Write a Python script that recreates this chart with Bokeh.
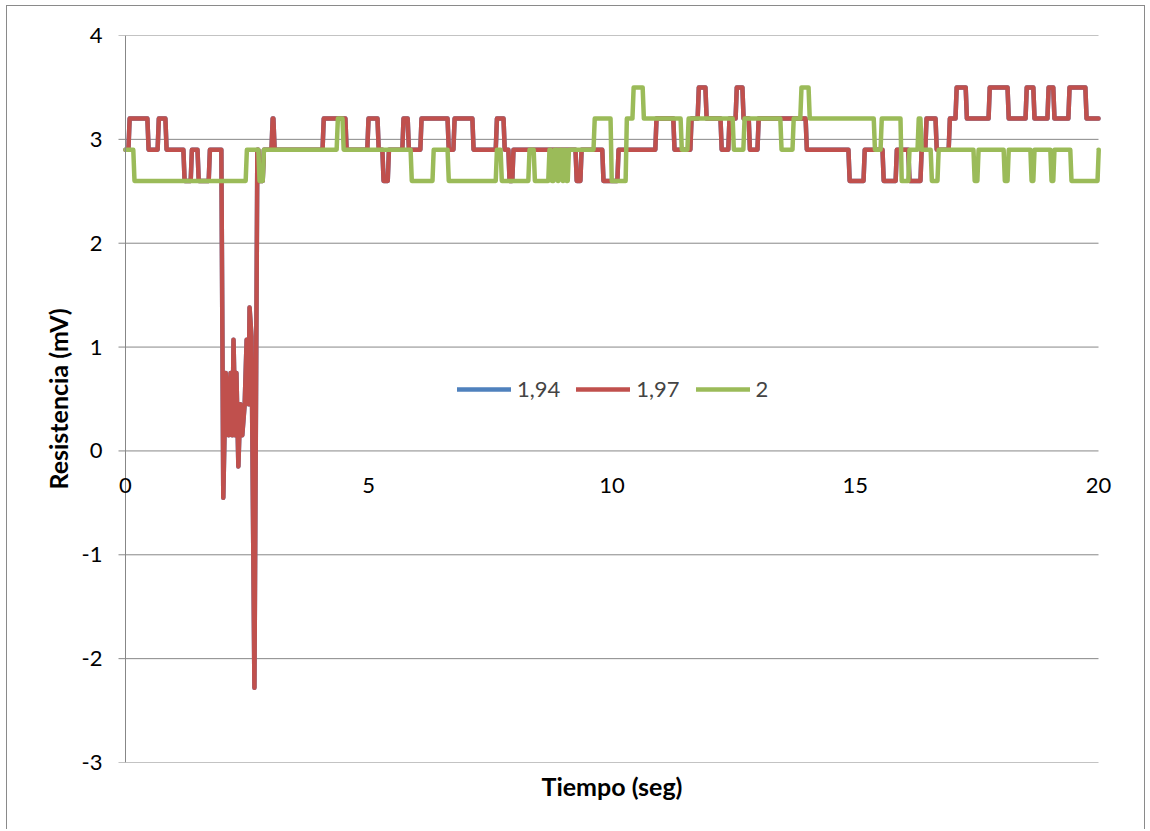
from bokeh.plotting import figure
from bokeh.models import Range1d, FixedTicker, Legend, LegendItem, Label, Span
from bokeh.embed import file_html
from bokeh.resources import INLINE

# ---------------- data ----------------
T_END = 20.0
RAMP = 0.025  # seconds of slope at each level change

# series "1,97": level runs (start time s, level mV)
red_a_t = [0, 0.06, 0.45, 0.66, 0.82, 1.19, 1.34, 1.48, 1.71]
red_a_v = [2.9, 3.2, 2.9, 3.2, 2.9, 2.6, 2.9, 2.6, 2.9]
# fast transient around t = 2 s (individual samples)
spike_t = [1.97, 2.01, 2.06, 2.12, 2.16, 2.20, 2.22, 2.26, 2.28, 2.32,
           2.36, 2.40, 2.45, 2.49, 2.53, 2.55, 2.59, 2.65]
spike_v = [2.9, -0.45, 0.75, 0.15, 0.75, 0.15, 1.07, 0.15, 0.75, -0.15,
           0.45, 0.15, 0.45, 1.07, 0.45, 1.38, 1.1, -2.28]
red_b_t = [2.71, 2.73, 2.82, 3.00, 3.04, 4.05, 4.52, 4.97, 5.18, 5.28,
           5.39, 5.69, 5.80, 6.06, 6.62, 6.74, 7.13, 7.61, 7.77, 7.87,
           7.95, 9.25, 9.35, 9.80, 10.11, 10.89, 11.26, 11.61, 11.76, 11.92,
           12.23, 12.39, 12.54, 12.68, 12.81, 12.99, 13.98, 14.86, 15.17, 15.56,
           15.83, 16.09, 16.34, 16.44, 16.65, 16.92, 17.06, 17.27, 17.74, 18.13,
           18.50, 18.66, 18.95, 19.07, 19.38, 19.73]
red_b_v = [2.9, 2.6, 2.9, 3.2, 2.9, 3.2, 2.9, 3.2, 2.9, 2.6,
           2.9, 3.2, 2.9, 3.2, 2.9, 3.2, 2.9, 3.2, 2.9, 2.6,
           2.9, 2.6, 2.9, 2.6, 2.9, 3.2, 2.9, 3.2, 3.5, 3.2,
           2.9, 3.2, 3.5, 3.2, 2.9, 3.2, 2.9, 2.6, 2.9, 2.6,
           2.9, 2.6, 2.9, 3.2, 2.9, 3.2, 3.5, 3.2, 3.5, 3.2,
           3.5, 3.2, 3.5, 3.2, 3.5, 3.2]

# series "2": level runs
green_t = [0, 0.16, 2.47, 2.73, 2.82, 4.34, 4.46, 5.86, 6.31, 6.62,
           7.61, 7.71, 8.28, 8.39, 8.69, 8.74, 8.80, 8.86, 8.90, 8.96,
           9.00, 9.04, 9.09, 9.62, 9.97, 10.28, 10.42, 10.63, 11.41, 11.55,
           12.48, 12.70, 13.46, 13.71, 13.87, 14.04, 15.38, 15.52, 15.93, 16.09,
           16.28, 16.34, 16.55, 16.69, 17.43, 17.51, 18.05, 18.13, 18.60, 18.66,
           19.01, 19.07, 19.42, 19.98]
green_v = [2.9, 2.6, 2.9, 2.6, 2.9, 3.2, 2.9, 2.6, 2.9, 2.6,
           2.9, 2.6, 2.9, 2.6, 2.9, 2.6, 2.9, 2.6, 2.9, 2.6,
           2.9, 2.6, 2.9, 3.2, 2.6, 3.2, 3.5, 3.2, 2.9, 3.2,
           2.9, 3.2, 2.9, 3.2, 3.5, 3.2, 2.9, 3.2, 2.6, 2.9,
           3.2, 2.9, 2.6, 2.9, 2.6, 2.9, 2.6, 2.9, 2.6, 2.9,
           2.6, 2.9, 2.6, 2.9]

series_names = ["1,94", "1,97", "2"]
series_colors = ["#4F81BD", "#C0504D", "#9BBB59"]

x_ticks = [0, 5, 10, 15, 20]
x_tick_labels = ["0", "5", "10", "15", "20"]
y_ticks = [-3, -2, -1, 0, 1, 2, 3, 4]
X_MIN, X_MAX, Y_MIN, Y_MAX = 0, 20, -3, 4


def steps(ts, vs, t_end):
    xs, ys = [], []
    for i, (t, v) in enumerate(zip(ts, vs)):
        t0 = t + RAMP if i > 0 else t
        t1 = ts[i + 1] if i + 1 < len(ts) else t_end
        xs += [t0, t1]
        ys += [v, v]
    return xs, ys


ax, ay = steps(red_a_t, red_a_v, spike_t[0])
bx, by = steps(red_b_t, red_b_v, T_END)
red_x = ax + spike_t[1:] + bx
red_y = ay + spike_v[1:] + by
# series "1,94" is not visible in the reference: it lies under "1,97"
blue_x, blue_y = list(red_x), list(red_y)
green_x, green_y = steps(green_t, green_v, T_END)

FONT = "Lato"
GRID = "#878787"
TICK_FS = "22px"
TITLE_FS = "25px"

# geometry: the data area spans 973 px for 20 s; the frame is a little wider
# (14 px each side) so the x tick labels at 0 and 20 are not clipped
PX_PER_UNIT = 973 / (X_MAX - X_MIN)
TICK_LEN = 7
PAD = 14
x_lo = X_MIN - PAD / PX_PER_UNIT
x_hi = X_MAX + PAD / PX_PER_UNIT
grid_start = X_MIN - TICK_LEN / PX_PER_UNIT

p = figure(width=1139, height=824, output_backend="svg", toolbar_location=None,
           x_range=Range1d(x_lo, x_hi), y_range=Range1d(Y_MIN, Y_MAX),
           min_border_left=104, min_border_right=34,
           min_border_top=29, min_border_bottom=68)
p.styles = {"border-left": "1px solid #8a8a8a",
            "border-top": "1px solid #8a8a8a",
            "border-right": "1px solid #8a8a8a",
            "margin-left": "6px", "margin-top": "5px"}
p.outline_line_color = None
p.background_fill_color = "white"
p.border_fill_color = "white"
p.grid.visible = False

# horizontal grid lines (their left end forms the y tick marks)
p.segment(x0=[grid_start] * len(y_ticks), x1=[X_MAX] * len(y_ticks),
          y0=y_ticks, y1=y_ticks, line_color=GRID, line_width=1)
# vertical axis line at x = 0
p.add_layout(Span(location=X_MIN, dimension="height", line_color=GRID,
                  line_width=1))

p.yaxis.ticker = FixedTicker(ticks=y_ticks)
p.yaxis.major_label_overrides = {t: str(t) for t in y_ticks}
p.yaxis.axis_line_color = None
p.yaxis.major_tick_line_color = None
p.yaxis.minor_tick_line_color = None
p.yaxis.major_tick_out = 0
p.yaxis.major_tick_in = 0
p.yaxis.major_label_text_font = FONT
p.yaxis.major_label_text_font_size = TICK_FS
p.yaxis.major_label_text_color = "black"
p.yaxis.major_label_standoff = 9
p.yaxis.axis_label = "Resistencia (mV)"
p.yaxis.axis_label_text_font = FONT
p.yaxis.axis_label_text_font_style = "bold"
p.yaxis.axis_label_text_font_size = TITLE_FS
p.yaxis.axis_label_text_color = "black"
p.yaxis.axis_label_standoff = 6

# bottom axis only carries the title
p.xaxis.ticker = FixedTicker(ticks=[])
p.xaxis.axis_line_color = None
p.xaxis.major_tick_line_color = None
p.xaxis.minor_tick_line_color = None
p.xaxis.axis_label = "Tiempo (seg)"
p.xaxis.axis_label_text_font = FONT
p.xaxis.axis_label_text_font_style = "bold"
p.xaxis.axis_label_text_font_size = TITLE_FS
p.xaxis.axis_label_text_color = "black"
p.xaxis.axis_label_standoff = 8

# tick labels of the horizontal axis, which crosses at y = 0
for xt, lab in zip(x_ticks, x_tick_labels):
    p.add_layout(Label(x=xt, y=0, text=lab, text_align="center",
                       text_baseline="top", y_offset=-27, text_font=FONT,
                       text_font_size=TICK_FS, text_color="black"))

renderers = []
for xs, ys, c in [(blue_x, blue_y, series_colors[0]),
                  (red_x, red_y, series_colors[1]),
                  (green_x, green_y, series_colors[2])]:
    r = p.line(xs, ys, line_color=c, line_width=4.5, line_join="round",
               line_cap="round")
    renderers.append(r)

legend = Legend(items=[LegendItem(label=n, renderers=[r])
                       for n, r in zip(series_names, renderers)],
                orientation="horizontal", location=(346, 360),
                background_fill_alpha=0, border_line_color=None,
                label_text_font=FONT, label_text_font_size=TICK_FS,
                glyph_width=54, glyph_height=22, label_height=22,
                label_standoff=6, spacing=16, padding=0, margin=0)
p.add_layout(legend, "center")

open("out.html", "w").write(file_html(p, INLINE))
